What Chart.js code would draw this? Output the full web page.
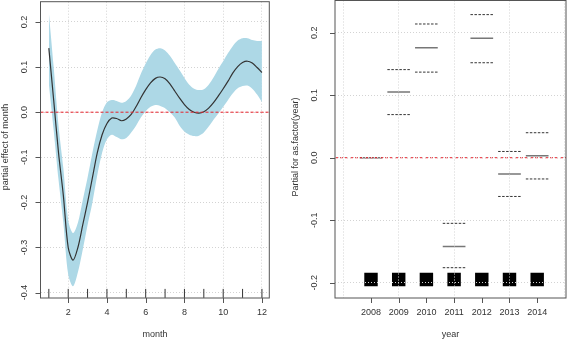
<!DOCTYPE html>
<html>
<head>
<meta charset="utf-8">
<script src="https://cdn.jsdelivr.net/npm/chart.js@4.4.1/dist/chart.umd.min.js"></script>
<style>
  html, body { margin: 0; padding: 0; background: #fff; }
  #wrap { position: relative; width: 567px; height: 341px; overflow: hidden; }
  canvas { position: absolute; top: 0; }
  #monthChart { left: 0; }
  #yearChart { left: 283px; }
</style>
</head>
<body>
<div id="wrap">
  <canvas id="monthChart" width="283" height="341"></canvas>
  <canvas id="yearChart" width="284" height="341"></canvas>
</div>
<script>
// left panel: smooth term for month with its +-2se band
const months = [1, 1.25, 1.5, 1.75, 2, 2.25, 2.5, 2.75, 3, 3.25, 3.5, 3.75, 4, 4.25, 4.5, 4.75,
                5, 5.25, 5.5, 5.75, 6, 6.25, 6.5, 6.75, 7, 7.25, 7.5, 7.75, 8, 8.25, 8.5, 8.75,
                9, 9.25, 9.5, 9.75, 10, 10.25, 10.5, 10.75, 11, 11.25, 11.5, 11.75, 12];
const monthFit = [0.142, 0.027, -0.09, -0.185, -0.30, -0.328, -0.30, -0.25, -0.20, -0.145, -0.09, -0.05, -0.025, -0.013, -0.014, -0.019,
                  -0.015, -0.005, 0.012, 0.032, 0.05, 0.065, 0.075, 0.078, 0.074, 0.063, 0.047, 0.031, 0.017, 0.006, 0.0, -0.002,
                  0.001, 0.009, 0.021, 0.036, 0.052, 0.069, 0.087, 0.101, 0.110, 0.113, 0.109, 0.099, 0.088];
const monthUpper = [0.221, 0.10, -0.03, -0.125, -0.24, -0.268, -0.245, -0.195, -0.145, -0.09, -0.04, 0.0, 0.022, 0.027, 0.025, 0.021,
                    0.025, 0.037, 0.058, 0.085, 0.108, 0.127, 0.139, 0.142, 0.137, 0.125, 0.109, 0.093, 0.076, 0.061, 0.052, 0.049,
                    0.051, 0.061, 0.077, 0.096, 0.113, 0.131, 0.147, 0.159, 0.164, 0.164, 0.160, 0.158, 0.158];
const monthLower = [0.063, -0.04, -0.15, -0.245, -0.36, -0.386, -0.355, -0.305, -0.25, -0.20, -0.14, -0.09, -0.06, -0.05, -0.055, -0.06,
                    -0.057, -0.045, -0.03, -0.012, 0.002, 0.012, 0.016, 0.014, 0.009, 0.0, -0.012, -0.03, -0.043, -0.05, -0.053, -0.052,
                    -0.045, -0.032, -0.017, -0.003, 0.012, 0.027, 0.042, 0.053, 0.058, 0.059, 0.052, 0.039, 0.022];
const rugMonths = [1, 2, 3, 4, 5, 6, 7, 8, 9, 10, 11, 12];
const monthTicksX = [2, 4, 6, 8, 10, 12];
const monthTicksY = [-0.4, -0.3, -0.2, -0.1, 0.0, 0.1, 0.2];

// right panel: factor effect of year
const years = [2008, 2009, 2010, 2011, 2012, 2013, 2014];
const yearFit = [0, 0.105, 0.176, -0.142, 0.191, -0.026, 0.003];
const yearUpper = [null, 0.141, 0.214, -0.105, 0.229, 0.010, 0.040];
const yearLower = [null, 0.069, 0.137, -0.176, 0.152, -0.062, -0.034];
const yearTicksY = [-0.2, -0.1, 0.0, 0.1, 0.2];
const yearGridX = [2007, 2009, 2011, 2013, 2015];

const FONT = '9px "Liberation Sans", Arial, sans-serif';
const TEXT = '#333';
const GRID = '#d3d3d3';

function rFrame(cfg) {
    return {
        id: 'rframe',
        afterDraw(chart) {
            const { ctx, chartArea: a, scales: { x, y } } = chart;
            ctx.save();
            ctx.strokeStyle = '#555';
            ctx.lineWidth = 1;
            ctx.strokeRect(a.left, a.top, a.right - a.left, a.bottom - a.top);
            ctx.beginPath();
            cfg.xTicks.forEach(v => {
                const px = Math.round(x.getPixelForValue(v)) + 0.5;
                ctx.moveTo(px, a.bottom);
                ctx.lineTo(px, a.bottom + 5);
            });
            cfg.yTicks.forEach(v => {
                const py = Math.round(y.getPixelForValue(v)) + 0.5;
                ctx.moveTo(a.left - 5, py);
                ctx.lineTo(a.left, py);
            });
            ctx.stroke();

            ctx.fillStyle = TEXT;
            ctx.font = FONT;
            ctx.textAlign = 'center';
            ctx.textBaseline = 'middle';
            cfg.xTicks.forEach(v => ctx.fillText(String(v), x.getPixelForValue(v), 313));
            ctx.fillText(cfg.xTitle, (a.left + a.right) / 2, 335);
            cfg.yTicks.forEach(v => {
                ctx.save();
                ctx.translate(cfg.yLabelX, y.getPixelForValue(v));
                ctx.rotate(-Math.PI / 2);
                ctx.fillText(v.toFixed(1), 0, 0);
                ctx.restore();
            });
            ctx.save();
            ctx.translate(cfg.yTitleX, 147);
            ctx.rotate(-Math.PI / 2);
            ctx.fillText(cfg.yTitle, 0, 0);
            ctx.restore();
            ctx.restore();
        }
    };
}

function gridAxis(min, max, tickList, z) {
    return {
        type: 'linear',
        min: min,
        max: max,
        afterBuildTicks: axis => { axis.ticks = tickList.map(v => ({ value: v })); },
        ticks: { display: false },
        grid: { color: GRID, lineWidth: 1, drawTicks: false, z: z || 0 },
        border: { display: false, dash: [1, 2] }
    };
}

// ---------- month chart ----------
const mXmin = 0.57, mXmax = 12.38;
new Chart(document.getElementById('monthChart').getContext('2d'), {
    type: 'line',
    data: {
        datasets: [
            {
                label: 'zero',
                data: [{ x: mXmin, y: 0 }, { x: mXmax, y: 0 }],
                borderColor: '#e8202a',
                borderWidth: 1,
                borderDash: [3, 2],
                pointRadius: 0,
                order: 0
            },
            {
                label: 'fit',
                data: months.map((m, i) => ({ x: m, y: monthFit[i] })),
                borderColor: '#333',
                borderWidth: 1.2,
                pointRadius: 0,
                tension: 0.3,
                order: 1
            },
            {
                label: 'rug',
                type: 'scatter',
                data: rugMonths.map(m => ({ x: m, y: -0.4018 })),
                pointStyle: 'line',
                rotation: 90,
                radius: 4.5,
                borderColor: '#333',
                borderWidth: 1,
                order: 1
            },
            {
                label: 'upper',
                data: months.map((m, i) => ({ x: m, y: monthUpper[i] })),
                borderWidth: 0,
                borderColor: 'rgba(0,0,0,0)',
                backgroundColor: '#add8e6',
                pointRadius: 0,
                tension: 0.3,
                fill: '+1',
                order: 2
            },
            {
                label: 'lower',
                data: months.map((m, i) => ({ x: m, y: monthLower[i] })),
                borderWidth: 0,
                borderColor: 'rgba(0,0,0,0)',
                pointRadius: 0,
                tension: 0.3,
                fill: false,
                order: 3
            }
        ]
    },
    options: {
        responsive: false,
        animation: false,
        layout: { autoPadding: false, padding: { left: 40.5, right: 13.7, top: 1.7, bottom: 43 } },
        plugins: { legend: { display: false }, tooltip: { enabled: false } },
        scales: {
            x: gridAxis(mXmin, mXmax, monthTicksX),
            y: gridAxis(-0.412, 0.245, monthTicksY)
        }
    },
    plugins: [rFrame({
        xTicks: monthTicksX, yTicks: monthTicksY, xTitle: 'month',
        yTitle: 'partial effect of month', yLabelX: 25, yTitleX: 6
    })]
});

// ---------- year chart ----------
const yXmin = 2006.7, yXmax = 2015.04;
const half = 0.41;
function segments(vals) {
    return years.flatMap((yr, i) => [
        { x: yr - half, y: vals[i] },
        { x: yr + half, y: vals[i] },
        { x: yr + 0.5, y: null }
    ]);
}
new Chart(document.getElementById('yearChart').getContext('2d'), {
    type: 'line',
    data: {
        datasets: [
            {
                label: 'zero',
                data: [{ x: yXmin, y: 0 }, { x: yXmax, y: 0 }],
                borderColor: '#e8202a',
                borderWidth: 1,
                borderDash: [3, 2],
                pointRadius: 0,
                order: 0
            },
            {
                label: 'fit',
                data: segments(yearFit),
                borderColor: '#777',
                borderWidth: 1.5,
                pointRadius: 0,
                spanGaps: false,
                order: 1
            },
            {
                label: 'upper',
                data: segments(yearUpper),
                borderColor: '#333',
                borderWidth: 1,
                borderDash: [2.5, 1.5],
                pointRadius: 0,
                spanGaps: false,
                order: 1
            },
            {
                label: 'lower',
                data: segments(yearLower),
                borderColor: '#333',
                borderWidth: 1,
                borderDash: [2.5, 1.5],
                pointRadius: 0,
                spanGaps: false,
                order: 1
            },
            {
                label: 'rug',
                type: 'scatter',
                data: years.map(yr => ({ x: yr, y: -0.195 })),
                pointStyle: 'rect',
                radius: 9.5,
                backgroundColor: '#000',
                borderWidth: 0,
                order: 2
            }
        ]
    },
    options: {
        responsive: false,
        animation: false,
        layout: { autoPadding: false, padding: { left: 52, right: 1, top: 0.5, bottom: 43 } },
        plugins: { legend: { display: false }, tooltip: { enabled: false } },
        scales: {
            x: gridAxis(yXmin, yXmax, yearGridX, 1),
            y: gridAxis(-0.2245, 0.2516, yearTicksY, 1)
        }
    },
    plugins: [rFrame({
        xTicks: years, yTicks: yearTicksY, xTitle: 'year',
        yTitle: 'Partial for as.factor(year)', yLabelX: 32, yTitleX: 13
    })]
});
</script>
</body>
</html>
